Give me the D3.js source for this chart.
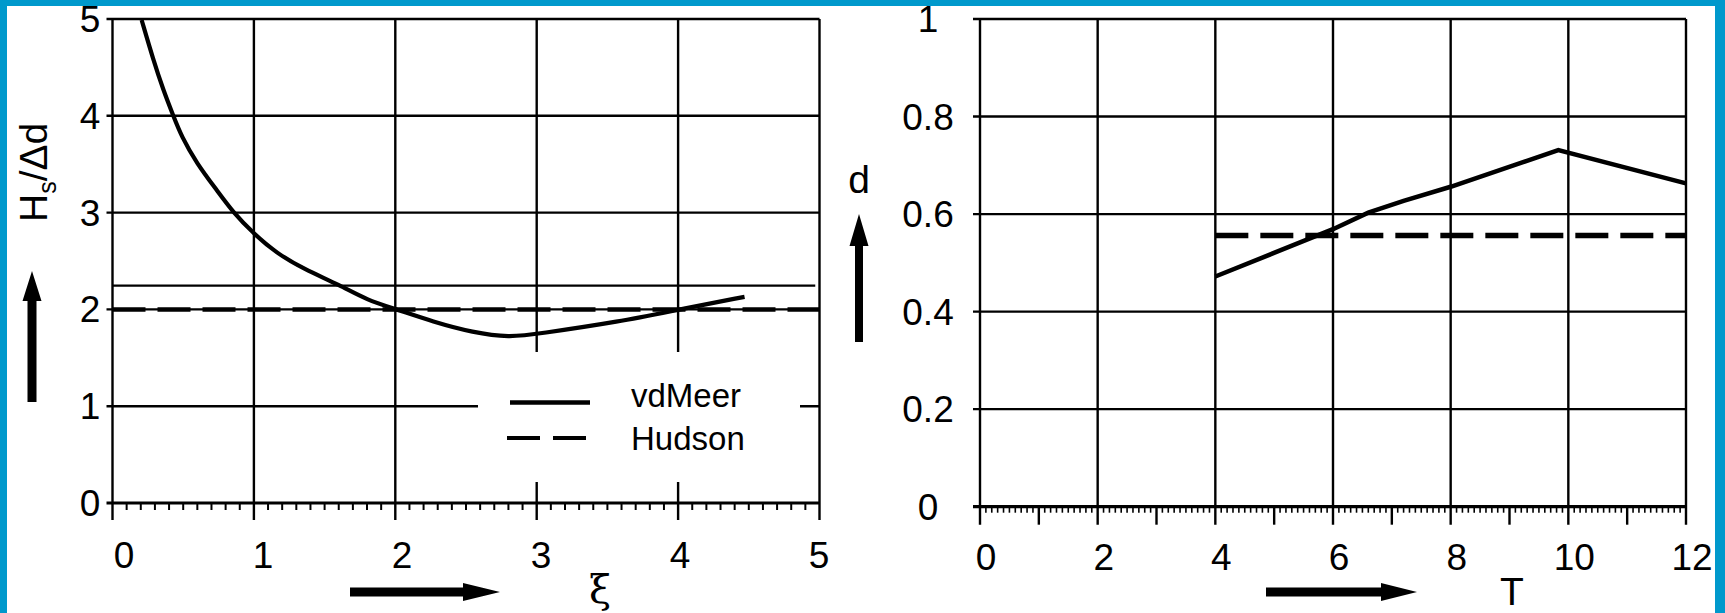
<!DOCTYPE html>
<html>
<head>
<meta charset="utf-8">
<script src="https://cdn.jsdelivr.net/npm/d3@7"></script>
<style>
  body { margin: 0; background: #fff; }
  svg text { font-family: "Liberation Sans", Arial, sans-serif; fill: #000; }
</style>
</head>
<body>
<script>
// ---- left panel: Hs/Δd against ξ
var xiTicks = [0, 1, 2, 3, 4, 5];
var hsTicks = [0, 1, 2, 3, 4, 5];
var vdMeerXi = [0.206, 0.289, 0.359, 0.43, 0.489, 0.595, 0.737, 0.854, 1.0, 1.161, 1.349, 1.609, 1.798, 2.01, 2.265, 2.55, 2.81, 3.0, 3.59, 4.01, 4.47];
var vdMeerHs = [4.99, 4.576, 4.267, 4.0, 3.784, 3.51, 3.233, 3.0, 2.78, 2.58, 2.42, 2.25, 2.097, 2.0, 1.873, 1.76, 1.71, 1.746, 1.873, 2.0, 2.13];
var hudsonXi = [0, 5];
var hudsonHs = [2.0, 2.0];
var refXi = [0, 4.97];
var refHs = [2.245, 2.245];

// ---- right panel: d against T
var tTicks = [0, 2, 4, 6, 8, 10, 12];
var dTicks = [0, 0.2, 0.4, 0.6, 0.8, 1];
var dLabels = ["0", "0.2", "0.4", "0.6", "0.8", "1"];
var vdMeerT = [4, 6, 6.6, 7.2, 8, 9.83, 12];
var vdMeerD = [0.472, 0.569, 0.603, 0.627, 0.656, 0.731, 0.663];
var hudsonT = [4, 12];
var hudsonD = [0.556, 0.556];

var legendNames = ["vdMeer", "Hudson"];

var width = 1725, height = 613;
var svg = d3.select("body").append("svg")
  .attr("width", width)
  .attr("height", height);

// blue frame
svg.append("rect").attr("width", width).attr("height", height).attr("fill", "#0099cc");
svg.append("rect").attr("x", 7).attr("y", 6).attr("width", 1708).attr("height", height).attr("fill", "#fff");

var zip = function(xs, ys) { return xs.map(function(v, i) { return [v, ys[i]]; }); };

var arrow = function(g, x1, y1, x2, y2, shaft, head, headLen) {
  // arrow pointing from (x1,y1) to (x2,y2)
  var a = Math.atan2(y2 - y1, x2 - x1), L = Math.hypot(x2 - x1, y2 - y1);
  var p = [[0, -shaft / 2], [L - headLen, -shaft / 2], [L - headLen, -head / 2], [L, 0],
           [L - headLen, head / 2], [L - headLen, shaft / 2], [0, shaft / 2]];
  g.append("path")
    .attr("d", "M" + p.map(function(q) { return q.join(","); }).join("L") + "Z")
    .attr("transform", "translate(" + x1 + "," + y1 + ") rotate(" + (a * 180 / Math.PI) + ")")
    .attr("fill", "#000");
};

// =========== LEFT PANEL ===========
var x1 = d3.scaleLinear().domain([0, 5]).range([112.5, 819.5]);
var y1 = d3.scaleLinear().domain([0, 5]).range([503, 19]);
var x1lab = d3.scaleLinear().domain([0, 5]).range([124, 819]);

var left = svg.append("g");

// minor ticks every 0.1
left.append("g").selectAll("line")
  .data(d3.range(1, 50).filter(function(i) { return i % 10 != 0; }).map(function(i) { return i / 10; }))
  .enter().append("line")
  .attr("x1", function(d) { return x1(d); }).attr("x2", function(d) { return x1(d); })
  .attr("y1", y1(0)).attr("y2", y1(0) + 7)
  .attr("stroke", "#000").attr("stroke-width", 2);

// vertical grid + major ticks
left.append("g").selectAll("line")
  .data(xiTicks)
  .enter().append("line")
  .attr("x1", function(d) { return x1(d); }).attr("x2", function(d) { return x1(d); })
  .attr("y1", y1(5)).attr("y2", y1(0) + 17)
  .attr("stroke", "#000").attr("stroke-width", 2.4);

// horizontal grid
left.append("g").selectAll("line")
  .data(hsTicks)
  .enter().append("line")
  .attr("x1", x1(0) - 6).attr("x2", x1(5))
  .attr("y1", function(d) { return y1(d); }).attr("y2", function(d) { return y1(d); })
  .attr("stroke", "#000").attr("stroke-width", function(d) { return d == 0 ? 3.2 : 2.4; });

left.append("g").selectAll("text")
  .data(hsTicks)
  .enter().append("text")
  .attr("x", 90).attr("y", function(d) { return y1(d) + 13; })
  .attr("text-anchor", "middle").attr("font-size", 37)
  .text(function(d) { return d; });

left.append("g").selectAll("text")
  .data(xiTicks)
  .enter().append("text")
  .attr("x", function(d) { return x1lab(d); }).attr("y", 568)
  .attr("text-anchor", "middle").attr("font-size", 37)
  .text(function(d) { return d; });

// legend box (covers grid)
var lg = left.append("g");
lg.append("rect").attr("x", 478).attr("y", 352).attr("width", 322).attr("height", 130).attr("fill", "#fff");
lg.append("line").attr("x1", 510).attr("x2", 590).attr("y1", 402.5).attr("y2", 402.5)
  .attr("stroke", "#000").attr("stroke-width", 4.5);
lg.append("line").attr("x1", 507).attr("x2", 586).attr("y1", 438).attr("y2", 438)
  .attr("stroke", "#000").attr("stroke-width", 4).attr("stroke-dasharray", "33,13");
lg.selectAll("text")
  .data(legendNames)
  .enter().append("text")
  .attr("x", 631).attr("y", function(d, i) { return 407 + i * 43; })
  .attr("font-size", 33)
  .text(function(d) { return d; });

var line1 = d3.line().x(function(d) { return x1(d[0]); }).y(function(d) { return y1(d[1]); });

left.append("path").datum(zip(refXi, refHs))
  .attr("d", line1).attr("fill", "none").attr("stroke", "#000").attr("stroke-width", 2.2);
left.append("path").datum(zip(hudsonXi, hudsonHs))
  .attr("d", line1).attr("fill", "none").attr("stroke", "#000").attr("stroke-width", 4.5)
  .attr("stroke-dasharray", "33,12");
left.append("path").datum(zip(vdMeerXi, vdMeerHs))
  .attr("d", line1.curve(d3.curveBasis)).attr("fill", "none").attr("stroke", "#000").attr("stroke-width", 4.2);

// axis titles
var ytitle = left.append("text")
  .attr("transform", "translate(47,222) rotate(-90)")
  .attr("font-size", 39);
ytitle.append("tspan").text("H");
ytitle.append("tspan").attr("font-size", 25).attr("dy", 9).text("s");
ytitle.append("tspan").attr("dy", -9).text("/\u0394d");

arrow(left, 32, 402, 32, 271, 9, 19, 30);
arrow(left, 350, 592, 500, 592, 9, 18, 37);
left.append("text").attr("x", 600).attr("y", 603)
  .attr("text-anchor", "middle").attr("font-size", 40)
  .style("font-family", "'DejaVu Serif', 'Liberation Serif', serif")
  .text("\u03be");

// =========== RIGHT PANEL ===========
var x2 = d3.scaleLinear().domain([0, 12]).range([980, 1686]);
var y2 = d3.scaleLinear().domain([0, 1]).range([506.7, 19]);

var right = svg.append("g");

right.append("g").selectAll("line")
  .data(d3.range(1, 120).filter(function(i) { return i % 10 != 0; }).map(function(i) { return i / 10; }))
  .enter().append("line")
  .attr("x1", function(d) { return x2(d); }).attr("x2", function(d) { return x2(d); })
  .attr("y1", y2(0)).attr("y2", y2(0) + 6)
  .attr("stroke", "#000").attr("stroke-width", 1.6);

right.append("g").selectAll("line")
  .data(d3.range(1, 12, 2))
  .enter().append("line")
  .attr("x1", function(d) { return x2(d); }).attr("x2", function(d) { return x2(d); })
  .attr("y1", y2(0)).attr("y2", y2(0) + 18)
  .attr("stroke", "#000").attr("stroke-width", 2.4);

right.append("g").selectAll("line")
  .data(tTicks)
  .enter().append("line")
  .attr("x1", function(d) { return x2(d); }).attr("x2", function(d) { return x2(d); })
  .attr("y1", y2(1)).attr("y2", y2(0) + 18)
  .attr("stroke", "#000").attr("stroke-width", 2.4);

right.append("g").selectAll("line")
  .data(dTicks)
  .enter().append("line")
  .attr("x1", x2(0) - 7).attr("x2", x2(12))
  .attr("y1", function(d) { return y2(d); }).attr("y2", function(d) { return y2(d); })
  .attr("stroke", "#000").attr("stroke-width", function(d) { return d == 0 ? 3.2 : 2.4; });

right.append("g").selectAll("text")
  .data(dTicks)
  .enter().append("text")
  .attr("x", 928).attr("y", function(d) { return y2(d) + 13; })
  .attr("text-anchor", "middle").attr("font-size", 37)
  .text(function(d, i) { return dLabels[i]; });

right.append("g").selectAll("text")
  .data(tTicks)
  .enter().append("text")
  .attr("x", function(d) { return x2(d) + 6; }).attr("y", 570)
  .attr("text-anchor", "middle").attr("font-size", 37)
  .text(function(d) { return d; });

var line2 = d3.line().x(function(d) { return x2(d[0]); }).y(function(d) { return y2(d[1]); });

right.append("path").datum(zip(hudsonT, hudsonD))
  .attr("d", line2).attr("fill", "none").attr("stroke", "#000").attr("stroke-width", 5.5)
  .attr("stroke-dasharray", "33,12");
right.append("path").datum(zip(vdMeerT, vdMeerD))
  .attr("d", line2).attr("fill", "none").attr("stroke", "#000").attr("stroke-width", 4.5);

right.append("text").attr("x", 859).attr("y", 193)
  .attr("text-anchor", "middle").attr("font-size", 39).text("d");
arrow(right, 859, 342, 859, 214, 8, 19, 32);
arrow(right, 1266, 592, 1417, 592, 9, 18, 36);
right.append("text").attr("x", 1512).attr("y", 605)
  .attr("text-anchor", "middle").attr("font-size", 39).text("T");
</script>
</body>
</html>
